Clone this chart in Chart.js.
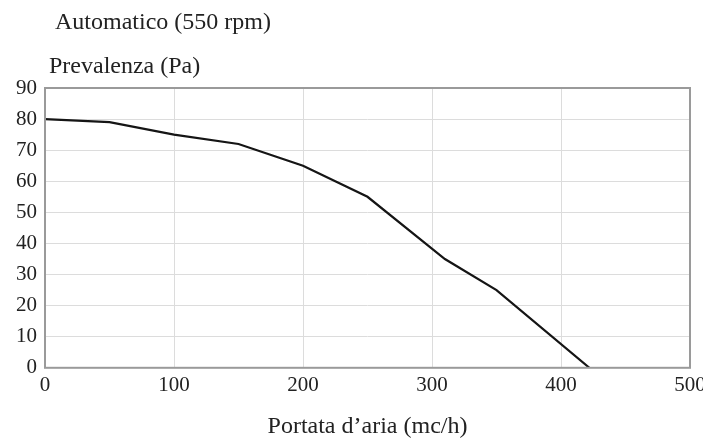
<!DOCTYPE html>
<html>
<head>
<meta charset="utf-8">
<script src="https://cdn.jsdelivr.net/npm/chart.js@4.4.0/dist/chart.umd.min.js"></script>
<style>
  body { margin: 0; background: #fff; }
  canvas { display: block; }
</style>
</head>
<body>
<canvas id="curve" width="703" height="439"></canvas>
<script>
// curva ventilatore
const portata = [0, 50, 100, 150, 200, 250, 310, 350, 422];
const prevalenza = [80, 79, 75, 72, 65, 55, 35, 25, 0];
const xTicks = [0, 100, 200, 300, 400, 500];
const yTicks = [0, 10, 20, 30, 40, 50, 60, 70, 80, 90];

const titolo = 'Automatico (550 rpm)';
const yLabel = 'Prevalenza (Pa)';
const xLabel = 'Portata d\u2019aria (mc/h)';

const serif = '"Liberation Serif", "Times New Roman", serif';

// box + testi in alto
const headerPlugin = {
    id: 'header',
    afterDraw: function (chart) {
        let ctx = chart.ctx;
        let a = chart.chartArea;
        ctx.save();
        ctx.strokeStyle = '#9a9a9a';
        ctx.lineWidth = 2;
        ctx.strokeRect(a.left, a.top, a.right - a.left, a.bottom - a.top);
        ctx.fillStyle = '#222';
        ctx.textBaseline = 'alphabetic';
        ctx.textAlign = 'left';
        ctx.font = '24px ' + serif;
        ctx.fillText(titolo, a.left + 10, 29);
        ctx.fillText(yLabel, a.left + 4, 73);
        ctx.restore();
    }
};

let ctx = document.getElementById('curve').getContext('2d');
window.curveChart = new Chart(ctx, {
    type: 'line',
    data: {
        datasets: [{
            data: portata.map((x, i) => ({ x: x, y: prevalenza[i] })),
            borderColor: '#151515',
            borderWidth: 2.2,
            pointRadius: 0,
            tension: 0,
            fill: false
        }]
    },
    options: {
        responsive: false,
        animation: false,
        layout: { padding: { top: 88, right: 13, left: 8, bottom: 0 } },
        plugins: {
            legend: { display: false },
            tooltip: { enabled: false }
        },
        scales: {
            x: {
                type: 'linear',
                min: xTicks[0],
                max: xTicks[xTicks.length - 1],
                afterBuildTicks: function (axis) { axis.ticks = xTicks.map(v => ({ value: v })); },
                afterFit: function (axis) { axis.paddingRight = 0; },
                grid: { color: '#dcdcdc', drawTicks: false },
                border: { display: false },
                ticks: { color: '#222', padding: 5, font: { family: serif, size: 21 } },
                title: { display: true, text: xLabel, color: '#222', padding: { top: 12, bottom: 0 }, font: { family: serif, size: 24, lineHeight: 1 } }
            },
            y: {
                min: yTicks[0],
                max: yTicks[yTicks.length - 1],
                afterBuildTicks: function (axis) { axis.ticks = yTicks.map(v => ({ value: v })); },
                grid: { color: '#dcdcdc', drawTicks: false },
                border: { display: false },
                ticks: { color: '#222', padding: 8, font: { family: serif, size: 21 } }
            }
        }
    },
    plugins: [headerPlugin]
});
</script>
</body>
</html>
